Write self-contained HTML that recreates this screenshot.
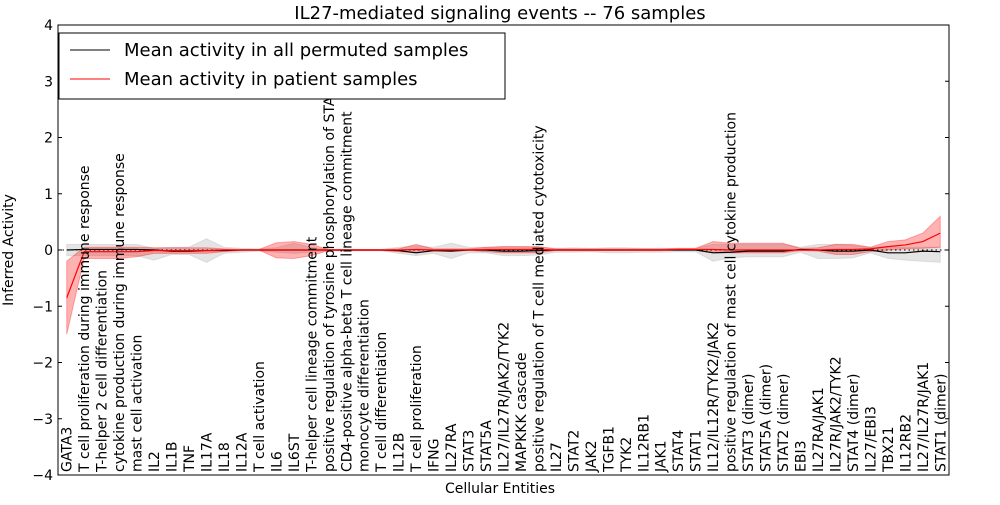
<!DOCTYPE html>
<html><head><meta charset="utf-8"><style>
body{margin:0;background:#fff;}
svg text{font-family:"DejaVu Sans","Liberation Sans",sans-serif;}
</style></head><body>
<svg id="chart" width="1000" height="500" xmlns="http://www.w3.org/2000/svg"></svg>
<script>
const categories=["GATA3","T cell proliferation during immune response","T-helper 2 cell differentiation","cytokine production during immune response","mast cell activation","IL2","IL1B","TNF","IL17A","IL18","IL12A","T cell activation","IL6","IL6ST","T-helper cell lineage commitment","positive regulation of tyrosine phosphorylation of STAT protein","CD4-positive alpha-beta T cell lineage commitment","monocyte differentiation","T cell differentiation","IL12B","T cell proliferation","IFNG","IL27RA","STAT3","STAT5A","IL27/IL27R/JAK2/TYK2","MAPKKK cascade","positive regulation of T cell mediated cytotoxicity","IL27","STAT2","JAK2","TGFB1","TYK2","IL12RB1","JAK1","STAT4","STAT1","IL12/IL12R/TYK2/JAK2","positive regulation of mast cell cytokine production","STAT3 (dimer)","STAT5A (dimer)","STAT2 (dimer)","EBI3","IL27RA/JAK1","IL27R/JAK2/TYK2","STAT4 (dimer)","IL27/EBI3","TBX21","IL12RB2","IL27/IL27R/JAK1","STAT1 (dimer)"];
const permMean=[0,0.01,0.01,0.01,0.01,0,-0.02,-0.02,-0.01,-0.01,0,0,0,0,0,0,0,0,0,-0.01,-0.05,-0.01,-0.02,0,0,-0.02,-0.02,-0.01,0,0,0,0,0,0,0,0,0,-0.05,-0.04,-0.02,-0.02,-0.02,0.01,0,-0.02,-0.02,0,-0.05,-0.05,-0.02,-0.03];
const permLo=[-0.1,-0.1,-0.1,-0.1,-0.1,-0.18,-0.08,-0.08,-0.22,-0.06,-0.04,-0.02,-0.04,-0.06,-0.04,-0.01,-0.01,-0.01,-0.01,-0.06,-0.1,-0.06,-0.15,-0.05,-0.05,-0.1,-0.1,-0.09,-0.04,-0.04,-0.03,-0.05,-0.05,-0.04,-0.04,-0.03,-0.03,-0.2,-0.14,-0.12,-0.12,-0.12,-0.04,-0.15,-0.15,-0.14,-0.05,-0.15,-0.18,-0.2,-0.22];
const permHi=[0.1,0.1,0.1,0.1,0.1,0.03,0.05,0.05,0.2,0.05,0.03,0.02,0.04,0.12,0.05,0.01,0.01,0.01,0.01,0.05,0.07,0.05,0.12,0.05,0.05,0.06,0.06,0.05,0.03,0.04,0.03,0.04,0.04,0.03,0.03,0.03,0.03,0.1,0.1,0.1,0.1,0.1,0.05,0.1,0.1,0.08,0.05,0.05,0.05,0.05,0.05];
const patMean=[-0.85,-0.03,-0.03,-0.03,-0.03,-0.01,-0.01,-0.01,-0.01,0,0,0,0,0,0,0,0,0,0,0,0.01,0,0,0,0.01,0.01,0.01,0.01,0,0,0,0,0,0,0,0.01,0.01,0.01,0,0,0,0,0,0,0.01,0.01,0.02,0.06,0.09,0.15,0.3];
const patLo=[-1.5,-0.15,-0.15,-0.15,-0.12,-0.06,-0.06,-0.06,-0.06,-0.03,-0.01,0,-0.14,-0.15,-0.1,-0.01,-0.01,-0.01,-0.01,-0.03,-0.05,-0.02,-0.02,-0.01,-0.03,-0.05,-0.05,-0.05,-0.01,-0.01,-0.01,-0.01,-0.01,-0.01,-0.01,0,0,-0.05,-0.05,-0.05,-0.05,-0.05,-0.01,-0.02,-0.08,-0.08,-0.03,0,0.02,0.03,0.05];
const patHi=[-0.2,0.05,0.05,0.05,0.05,0.04,0.04,0.04,0.04,0.02,0.01,0.01,0.13,0.15,0.1,0.01,0.01,0.01,0.01,0.02,0.1,0.02,0.02,0.02,0.05,0.06,0.06,0.06,0.02,0.02,0.02,0.02,0.02,0.02,0.02,0.03,0.03,0.15,0.12,0.12,0.12,0.12,0.03,0.04,0.1,0.1,0.05,0.15,0.18,0.3,0.6];
const yTicks=[-4,-3,-2,-1,0,1,2,3,4];

const NS="http://www.w3.org/2000/svg";
const svg=document.getElementById('chart');
const L=58,R=949,T=25,B=475;
const xs=i=>L+(i+0.5)*(R-L)/categories.length;
const ys=v=>T+(4-v)*(B-T)/8;
function mk(tag,attrs,parent){const e=document.createElementNS(NS,tag);for(const k in attrs)e.setAttribute(k,attrs[k]);(parent||svg).appendChild(e);return e;}
function band(lo,hi,fill,op,name){
  let d="M"+lo.map((v,i)=>xs(i)+","+ys(v)).join("L");
  for(let i=hi.length-1;i>=0;i--)d+="L"+xs(i)+","+ys(hi[i]);
  const p=mk('path',{d:d+"Z",fill:fill,'fill-opacity':op,stroke:fill,'stroke-opacity':op,'stroke-width':1});
  
  
}
function line(arr,col,name){
  const p=mk('path',{d:"M"+arr.map((v,i)=>xs(i)+","+ys(v)).join("L"),fill:'none',stroke:col,'stroke-width':1.2});
  
  
}
band(permLo,permHi,'#bbbbbb',0.4,'permuted-band');
band(patLo,patHi,'#ff0000',0.3,'patient-band');
const z=mk('line',{x1:L,x2:R,y1:ys(0),y2:ys(0),stroke:'#000','stroke-dasharray':'1.5,3','stroke-width':1});


line(permMean,'#000','permuted-mean-line');
line(patMean,'#ff0000','patient-mean-line');
categories.forEach((c,i)=>{
  const t=mk('text',{transform:`translate(${xs(i)+5},${B-3}) rotate(-90)`,'font-size':14,fill:'#000'});
  t.textContent=c;
  
  
});
yTicks.forEach(v=>{
  const y=ys(v);
  const k=mk('path',{d:`M${L},${y}h4M${R},${y}h-4`,stroke:'#000'});
  
  
  const t=mk('text',{x:L-5,y:y+5,'text-anchor':'end','font-size':14});
  t.textContent=(v<0?"\u2212":"")+Math.abs(v);
  
  
});
const fr=mk('rect',{x:L,y:T,width:R-L,height:B-T,fill:'none',stroke:'#000'});


</script>
<svg width="1000" height="500" style="position:absolute;left:0;top:0">
<text x="500" y="19" text-anchor="middle" font-size="18">IL27-mediated signaling events -- 76 samples</text>
<text x="500" y="493" text-anchor="middle" font-size="14">Cellular Entities</text>
<text transform="translate(13,250) rotate(-90)" text-anchor="middle" font-size="14">Inferred Activity</text>
<g>
<rect x="59" y="33" width="446" height="66" fill="#fff" stroke="#000"/>
<line x1="70" x2="110" y1="50" y2="50" stroke="#000" stroke-width="1"/>
<text x="124" y="56" font-size="18">Mean activity in all permuted samples</text>
<line x1="70" x2="110" y1="79" y2="79" stroke="#f00" stroke-width="1"/>
<text x="124" y="85" font-size="18">Mean activity in patient samples</text>
</g>
</svg>
</body></html>
